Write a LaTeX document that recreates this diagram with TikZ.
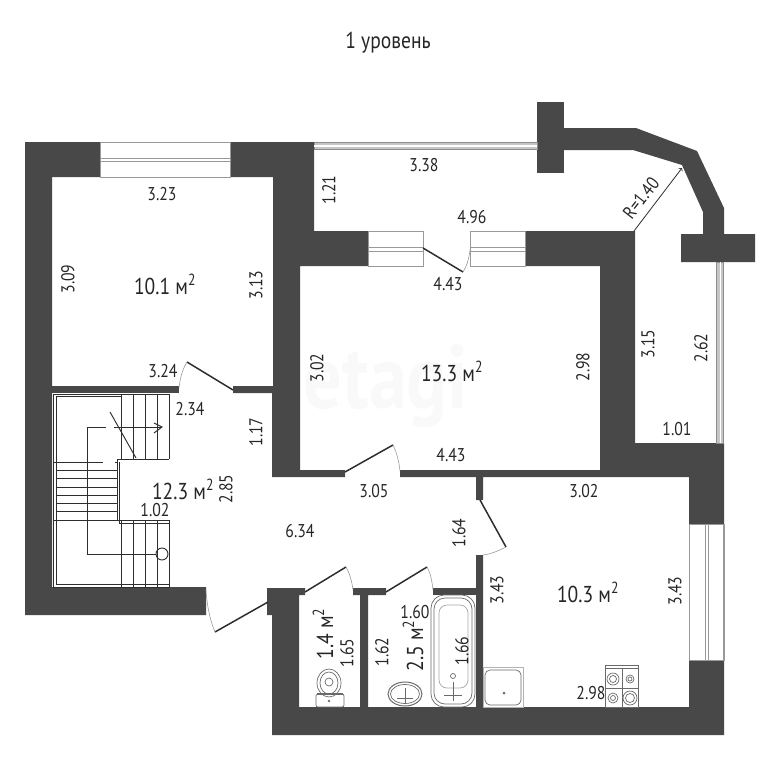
\documentclass[tikz,border=0pt]{standalone}
\usepackage{fontspec}
\setmainfont[FakeStretch=0.85]{PT Sans}
\usepackage{xcolor}
\usepackage{tikz}
\usetikzlibrary{arrows}
\definecolor{wallcol}{HTML}{484848}
\definecolor{linecol}{HTML}{2E2E2E}
\definecolor{fixcol}{HTML}{6A6A6A}
\tikzset{
  wall/.style={fill=wallcol,draw=none},
  pane/.style={draw=gray!80,line width=.9pt,fill=white},
  glass/.style={draw=gray!90,line width=.7pt,fill=gray!45},
  leaf/.style={draw=linecol,line width=1.5pt},
  swing/.style={draw=gray!80,line width=.6pt},
  stair/.style={draw=linecol,line width=.95pt},
  fixture/.style={draw=fixcol,line width=.7pt},
  len/.style={font=\fontsize{18.5}{20}\selectfont,text=black!85,inner sep=0pt},
  vlen/.style={len,rotate=90},
  area/.style={font=\fontsize{23}{25}\selectfont,text=black!85,inner sep=0pt}
}
\begin{document}
\begin{tikzpicture}[x=1pt,y=-1pt]
\useasboundingbox (0,0) rectangle (768,768);
% walls
\fill[wall] (25,142)--(100,142)--(100,177)--(52,177)--(52,587)--(206,587)--(206,615)--(25,615)--cycle;
\fill[wall] (52,386) rectangle (179,393);
\fill[wall] (230,142)--(314,142)--(314,231)--(368,231)--(368,266)--(300,266)--(300,470)--(345,470)--(345,477)--(272,477)--(272,393)--(233,393)--(233,386)--(273,386)--(273,177)--(230,177)--cycle;
\fill[wall] (525,231)--(635,231)--(635,443)--(724,443)--(724,524)--(689,524)--(689,477)--(483,477)--(483,500)--(476,500)--(476,477)--(400,477)--(400,470)--(600,470)--(600,266)--(525,266)--cycle;
\fill[wall] (689,660)--(724,660)--(724,735)--(272,735)--(272,615)--(267,615)--(267,588)--(305,588)--(305,595)--(299,595)--(299,707)--(360,707)--(360,595)--(353,595)--(353,588)--(386,588)--(386,595)--(368,595)--(368,707)--(476,707)--(476,555)--(483,555)--(483,707)--(689,707)--cycle;
\fill[wall] (433,588) rectangle (483,595);
% balcony
\fill[wall] (537,102) rectangle (564,173);
\fill[wall] (564,128)--(636,128)--(697,151)--(724,208)--(724,234)--(755,234)--(755,262)--(681,262)--(681,234)--(703,234)--(703,212)--(682,165)--(633,150)--(564,150)--cycle;
% windows
\draw[pane] (100,142) rectangle (230,177);
\draw[pane] (100,158) rectangle (230,161);
\draw[pane] (368,231) rectangle (423,266);
\draw[pane] (368,247) rectangle (423,251);
\draw[pane] (470,231) rectangle (525,266);
\draw[pane] (470,247) rectangle (525,251);
\draw[pane] (689,524) rectangle (724,660);
\draw[draw=gray!80,line width=1.6pt] (724,524)--(724,660);
\draw[pane] (705,524) rectangle (708,660);
\draw[glass] (314,142) rectangle (537,149);
\draw[draw=white,line width=1.2pt] (314,146)--(537,146);
\draw[glass] (716,262) rectangle (723,443);
\draw[draw=white,line width=1.2pt] (720.5,262)--(720.5,443);
% doors
\draw[leaf] (233,390)--(187,362);
\draw[swing] (187,362) .. controls (182,370) and (180,379) .. (179,388);
\draw[leaf] (345,472)--(393,445);
\draw[swing] (393,445) .. controls (397,453) and (399,462) .. (400,471);
\draw[leaf] (423,248)--(463,272);
\draw[swing] (463,272) .. controls (467,266) and (469,258) .. (470,250);
\draw[leaf] (480,500)--(506,547);
\draw[swing] (506,547) .. controls (498,551) and (491,554) .. (483,555);
\draw[leaf] (268,602)--(215,632);
\draw[swing] (215,632) .. controls (210,620) and (207,606) .. (206,590);
\draw[leaf] (305,592)--(346,567);
\draw[swing] (346,567) .. controls (350,574) and (352,582) .. (353,590);
\draw[leaf] (386,592)--(427,567);
\draw[swing] (427,567) .. controls (431,574) and (432,582) .. (433,590);
% stairs
\draw[stair] (169,459)--(169,394)--(53,394)--(53,587)--(169,587)--(169,520);
\draw[stair,line width=.8pt] (121,396.5)--(56,396.5)--(56,584)--(169,584);
\draw[stair] (121,394)--(121,459);
\draw[stair] (133,394)--(133,459) (145,394)--(145,459) (157,394)--(157,459);
\draw[stair] (117,459)--(169,459) (119.5,462)--(119.5,523)--(169,523);
\draw[stair] (117,459)--(117,520)--(169,520);
\draw[stair] (121,520)--(121,587) (133,520)--(133,587) (145,520)--(145,587) (157,520)--(157,587);
\draw[stair] (53,462)--(103,462) (115,462)--(117,462);
\draw[stair,line width=.8pt] (56,470)--(117,470) (56,478)--(117,478) (56,487)--(117,487) (56,495)--(117,495) (56,503)--(117,503) (56,511)--(117,511);
\draw[stair] (53,520)--(117,520);
\draw[stair] (106,427)--(87,427)--(87,554)--(156,554);
\draw[stair] (114,427)--(162,427);
\draw[stair] (154,423)--(162,427)--(154,433);
\draw[stair] (162,554) circle (6);
\draw[stair] (110,412)--(136,458);
% kitchen
\draw[fixture,gray!60] (483,667) rectangle (523,707);
\draw[fixture,rounded corners=5pt] (485,670) rectangle (521,705);
\fill[fixcol] (504,693) circle (1.5);
\draw[fixture,line width=.9pt] (605,665) rectangle (638,707);
\draw[fixture,line width=.9pt] (605,668)--(638,668) (622,668)--(622,707) (605,688)--(638,688);
\draw[fixture] (613,679) circle (6) (613,679) circle (3.5);
\draw[fixture] (630,679) circle (4) (630,679) circle (2);
\draw[fixture] (613,698) circle (5) (613,698) circle (2.5);
\draw[fixture] (630,698) circle (7) (630,698) circle (4.5);
% bath, basin, toilet
\draw[fixture,rounded corners=13pt] (431,595) rectangle (475,707);
\draw[fixture,rounded corners=11pt] (434,598) rectangle (472,704);
\draw[fixture,draw=gray!70,rounded corners=8pt] (439,605) rectangle (468,688);
\fill[white] (453,676) circle (2.5);
\draw[fixture] (453,676) circle (2.5);
\draw[fixture] (453,682)--(453,701) (444,695)--(462,695);
\draw[fixture,line width=1pt] (405,694) ellipse (17 and 12);
\draw[fixture] (405,694) ellipse (14.5 and 9.5);
\draw[fixture] (405,688)--(405,703) (397,698)--(413,698);
\draw[fixture] (329,683) ellipse (12 and 14);
\draw[fixture] (329,683) ellipse (9 and 11);
\draw[fixture] (329,682) circle (4);
\draw[fixture,rounded corners=2pt] (316,694) rectangle (344,707);
\draw[fixture,line width=1.2pt] (317,694)--(343,694);
\fill[fixcol] (329,701) circle (1.3);
% radius
\coordinate (rbase) at (634,231);
\coordinate (rtip) at (682,168);
\draw[->,line width=.8pt,linecol] (rbase)--(rtip);
% texts
\node[font=\fontsize{90}{94}\bfseries\selectfont,text=gray!5,inner sep=0pt] (markA) at (386,386){etagi};
\node[area] (title) at (388,43){1 уровень};
\node[area] (roomA) at (165,284){10.1 м\textsuperscript{2}};
\node[area] (roomB) at (452,371){13.3 м\textsuperscript{2}};
\node[area] (roomC) at (183,489){12.3 м\textsuperscript{2}};
\node[area] (roomD) at (588,592){10.3 м\textsuperscript{2}};
\node[area,rotate=90] (roomE) at (323,634){1.4 м\textsuperscript{2}};
\node[area,rotate=90] (roomF) at (413,646){2.5 м\textsuperscript{2}};
\node[len] (lenA) at (162,194){3.23};
\node[vlen] (lenB) at (68,279){3.09};
\node[vlen] (lenC) at (256,285){3.13};
\node[len] (lenD) at (163,371){3.24};
\node[len] (lenE) at (190,409){2.34};
\node[vlen] (lenF) at (256,432){1.17};
\node[vlen] (lenG) at (226,489){2.85};
\node[len] (lenH) at (155,510){1.02};
\node[len] (lenI) at (300,531){6.34};
\node[len] (lenJ) at (374,491){3.05};
\node[vlen] (lenK) at (459,533){1.64};
\node[vlen] (lenL) at (497,590){3.43};
\node[len] (lenM) at (584,491){3.02};
\node[vlen] (lenN) at (675,591){3.43};
\node[len] (lenO) at (591,693){2.98};
\node[vlen] (lenP) at (347,653){1.65};
\node[vlen] (lenQ) at (382,652){1.62};
\node[len] (lenR) at (415,612){1.60};
\node[vlen] (lenS) at (462,651){1.66};
\node[vlen] (lenT) at (317,368){3.02};
\node[vlen] (lenU) at (583,367){2.98};
\node[len] (lenV) at (448,284){4.43};
\node[len] (lenW) at (451,455){4.43};
\node[len] (lenX) at (424,165){3.38};
\node[vlen] (lenY) at (329,190){1.21};
\node[len] (lenZ) at (472,217){4.96};
\node[len,rotate=52] (lenRad) at (641,198){R=1.40};
\node[vlen] (lenAa) at (648,344){3.15};
\node[vlen] (lenAb) at (701,348){2.62};
\node[len] (lenAc) at (677,429){1.01};
\end{tikzpicture}
\end{document}
